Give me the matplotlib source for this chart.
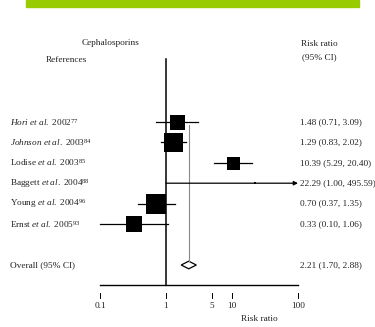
import matplotlib
matplotlib.use("Agg")
import matplotlib.pyplot as plt
from matplotlib.patches import Rectangle, Polygon
from matplotlib.transforms import blended_transform_factory
import numpy as np

plt.rcParams['font.family'] = ['Liberation Serif', 'DejaVu Serif']
plt.rcParams['mathtext.fontset'] = 'custom'
plt.rcParams['mathtext.rm'] = 'Liberation Serif'
plt.rcParams['mathtext.it'] = 'Liberation Serif:italic'

# Study-level risk ratios with 95% confidence intervals
studies = [r"$\it{Hori\ et\ al.\ 2002}$$^{77}$",
           r"$\it{Johnson\ et\ al.\ 2003}$$^{84}$",
           r"Lodise $\it{et\ al.}$ 2003$^{85}$",
           r"Baggett $\it{et\ al.}$ 2004$^{88}$",
           r"Young $\it{et\ al.}$ 2004$^{96}$",
           r"Ernst $\it{et\ al.}$ 2005$^{93}$"]
rr = [1.48, 1.29, 10.39, 22.29, 0.70, 0.33]
ci_low = [0.71, 0.83, 5.29, 1.00, 0.37, 0.10]
ci_high = [3.09, 2.02, 20.40, 495.59, 1.35, 1.06]
box_px = [15, 19, 13, 2, 20, 16]   # square side, scaled by study weight

overall_rr = 2.21
overall_low = 1.70
overall_high = 2.88

tick_vals = [0.1, 1, 5, 10, 100]
tick_labels = ["0.1", "1", "5", "10", "100"]

W, H = 375, 327
fig = plt.figure(figsize=(W / 100, H / 100), dpi=100)
ax = fig.add_axes([0, 0, 1, 1])
ax.set_xscale('log')
# 0.1 sits at x=100 px, one decade spans 66 px
dec = 66.0
ax.set_xlim(10 ** (-1 - 100 / dec), 10 ** (-1 + (W - 100) / dec))
ax.set_ylim(H, 0)
ax.axis('off')

tx = blended_transform_factory(ax.transAxes, ax.transData)
fs = 6.7
tc = '#222222'

# green banner
fig.patches.append(Rectangle((26 / W, 1 - 7 / H), 333 / W, 7 / H,
                             transform=fig.transFigure, color='#99cc00', zorder=0))

row_y = [122 + 20.4 * i for i in range(len(rr))]
overall_y = 265
axis_y = 285
xmax = 100

# reference line at RR = 1
ax.plot([1, 1], [59, axis_y], color='black', lw=1.1)
# line through the pooled estimate
ax.plot([overall_rr, overall_rr], [125, overall_y - 4], color='#888888', lw=0.8)

for i, y in enumerate(row_y):
    hi = min(ci_high[i], xmax)
    if ci_high[i] > xmax:
        ax.annotate("", xy=(hi, y), xytext=(ci_low[i], y),
                    arrowprops=dict(arrowstyle='-|>', color='black', lw=0.9,
                                    mutation_scale=6, shrinkA=0, shrinkB=0))
    else:
        ax.plot([ci_low[i], hi], [y, y], color='black', lw=0.9)
    ax.plot([rr[i]], [y], marker='s', ms=box_px[i] * 0.72, color='black', mew=0,
            linestyle='none')
    ax.text(10 / W, y, studies[i], transform=tx, fontsize=fs, va='center', ha='left',
            color=tc)
    ax.text(300 / W, y, f"{rr[i]:.2f} ({ci_low[i]:.2f}, {ci_high[i]:.2f})",
            transform=tx, fontsize=fs, va='center', ha='left', color=tc)

# pooled diamond
dh = 3.8
ax.add_patch(Polygon([(overall_low, overall_y), (overall_rr, overall_y - dh),
                      (overall_high, overall_y), (overall_rr, overall_y + dh)],
                     closed=True, facecolor='white', edgecolor='black', lw=0.9))
ax.text(10 / W, overall_y, "Overall (95% CI)", transform=tx, fontsize=fs,
        va='center', ha='left', color=tc)
ax.text(300 / W, overall_y, f"{overall_rr:.2f} ({overall_low:.2f}, {overall_high:.2f})",
        transform=tx, fontsize=fs, va='center', ha='left', color=tc)

# headers
ax.text(111 / W, 43, "Cephalosporins", transform=tx, fontsize=fs, ha='center',
        va='center', color=tc)
ax.text(66 / W, 60, "References", transform=tx, fontsize=fs, ha='center',
        va='center', color=tc)
ax.text(319 / W, 44, "Risk ratio", transform=tx, fontsize=fs, ha='center',
        va='center', color=tc)
ax.text(319 / W, 57, "(95% CI)", transform=tx, fontsize=fs, ha='center',
        va='center', color=tc)

# x axis
ax.plot([tick_vals[0], tick_vals[-1]], [axis_y, axis_y], color='black', lw=1.0)
for v, lab in zip(tick_vals, tick_labels):
    ax.plot([v, v], [293, 298], color='black', lw=0.7)
    ax.text(v, 306, lab, fontsize=fs, ha='center', va='center', color=tc)
ax.text(259 / W, 319, "Risk ratio", transform=tx, fontsize=fs, ha='center',
        va='center', color=tc)

fig.savefig("out.png", dpi=100)
